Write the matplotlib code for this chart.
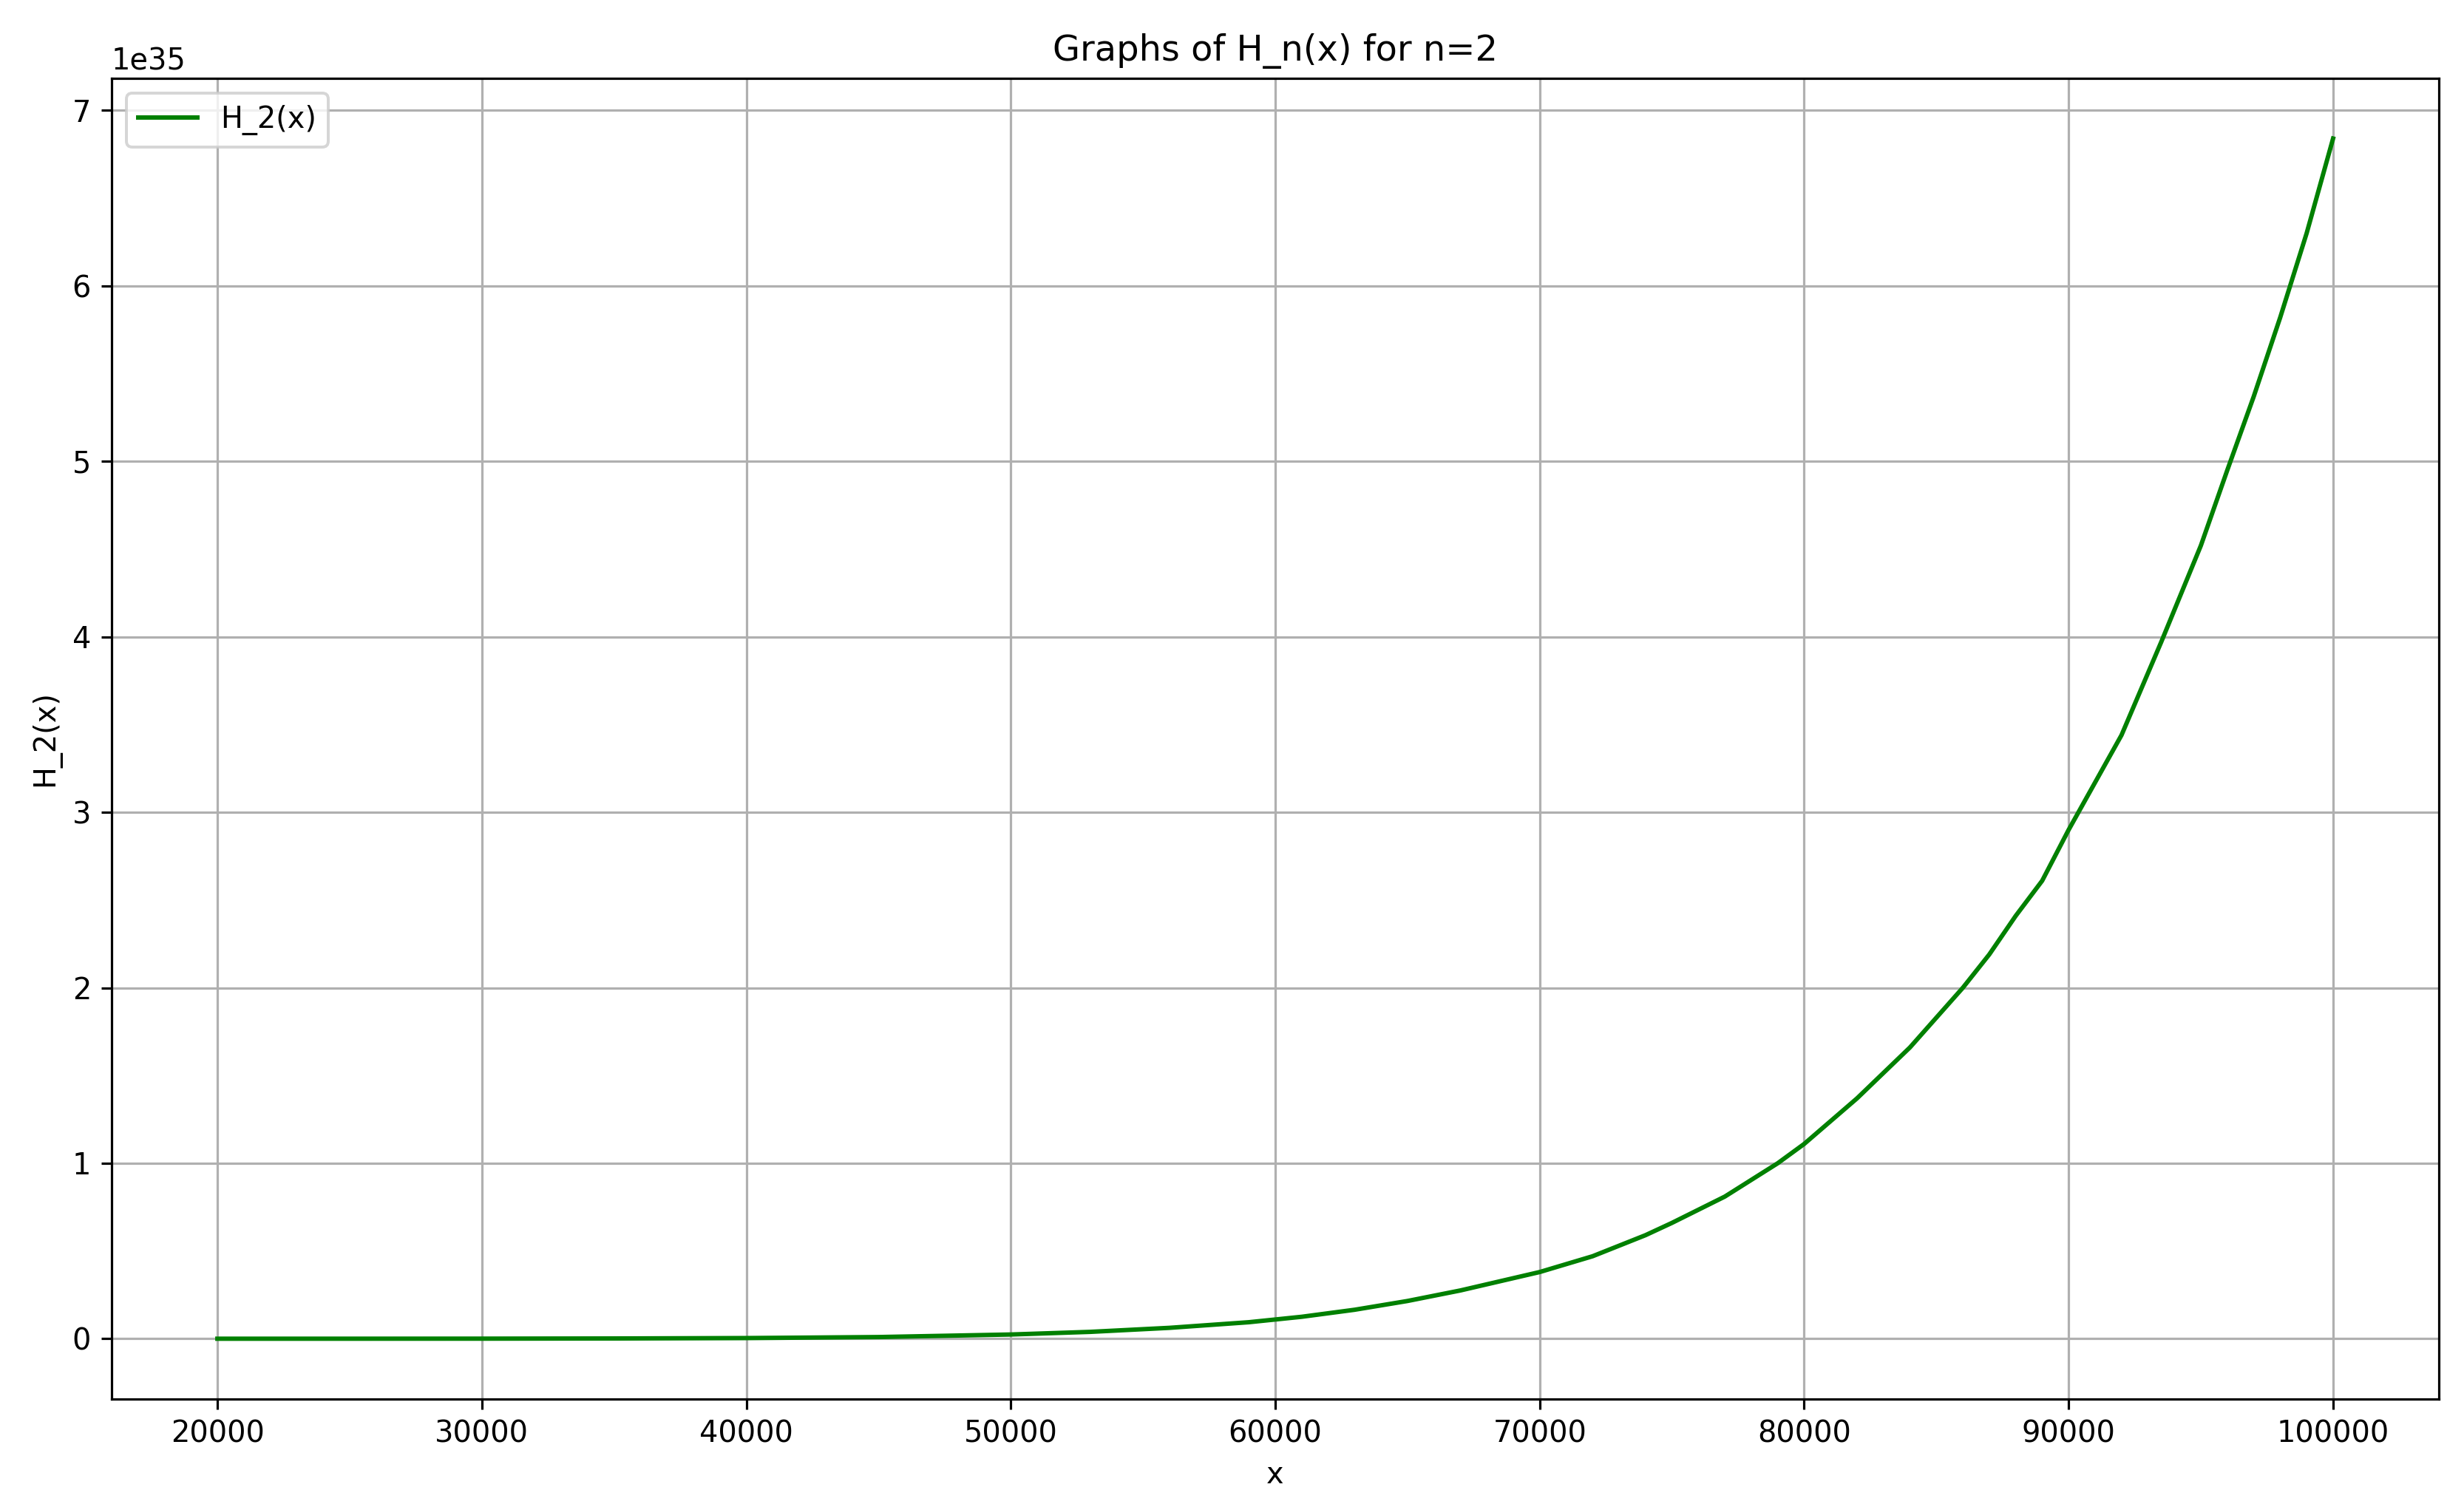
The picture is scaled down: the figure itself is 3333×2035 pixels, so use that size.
import matplotlib
matplotlib.use("Agg")
import matplotlib.pyplot as plt

x_values = [20000, 25000, 30000, 35000, 40000, 45000, 50000, 53000, 56000, 59000,
            61000, 63000, 65000, 67000, 69000, 70000, 72000, 74000, 75000, 77000,
            79000, 80000, 82000, 84000, 86000, 87000, 88000, 89000, 90000, 92000,
            93500, 95000, 96000, 97000, 98000, 99000, 100000]
h2_values_e35 = [0.0000, 0.0001, 0.0004, 0.0014, 0.0037, 0.0095, 0.024, 0.039, 0.062, 0.094,
                 0.125, 0.165, 0.215, 0.275, 0.345, 0.38, 0.47, 0.59, 0.66, 0.81,
                 1.00, 1.11, 1.37, 1.66, 2.00, 2.19, 2.41, 2.61, 2.90, 3.44,
                 3.97, 4.52, 4.95, 5.37, 5.82, 6.30, 6.84]
h2_values = [v * 1e35 for v in h2_values_e35]

dpi = 287
fig = plt.figure(figsize=(3333 / dpi, 2035 / dpi), dpi=dpi)
ax = fig.add_subplot(111)
fig.subplots_adjust(left=0.0453, right=0.9898, bottom=0.070, top=0.9478)

ax.plot(x_values, h2_values, color="green", label="H_2(x)")
ax.set_title("Graphs of H_n(x) for n=2")
ax.set_xlabel("x")
ax.set_ylabel("H_2(x)")
ax.legend(loc="upper left")
ax.grid(True)

fig.savefig("out.png", dpi=dpi)
